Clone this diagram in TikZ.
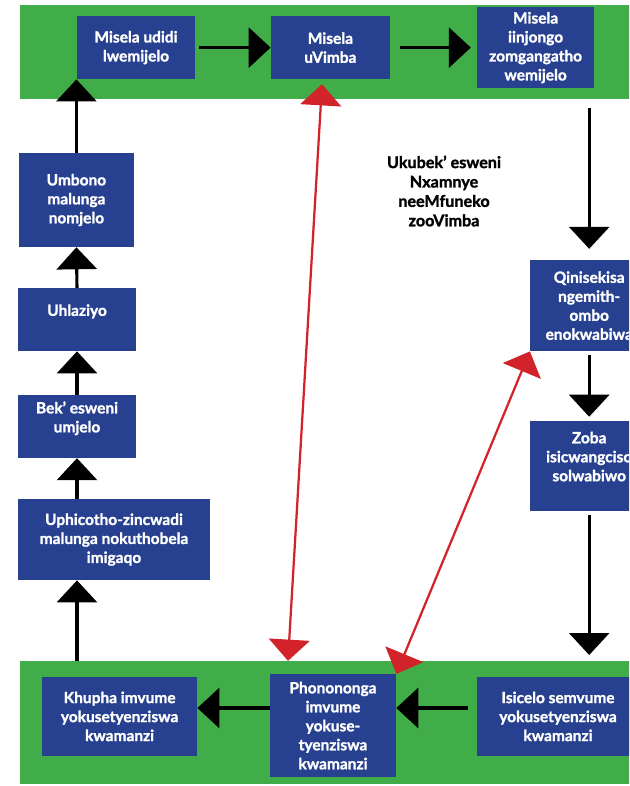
\documentclass[tikz,border=0pt]{standalone}
\usepackage{fontspec}
\setmainfont{Lato}[BoldFeatures={FakeBold=1.4}]
\usepackage{xcolor}
\usetikzlibrary{arrows.meta,positioning}
\definecolor{boxblue}{RGB}{39,64,143}
\definecolor{bandgreen}{RGB}{64,173,73}
\definecolor{linkred}{RGB}{210,35,42}

\begin{document}
\begin{tikzpicture}[
    procbox/.style={rectangle, fill=boxblue, text=white, align=center, inner sep=2pt, font=\fontsize{11}{13.5}\selectfont\bfseries},
    band/.style={rectangle, fill=bandgreen, inner sep=0pt, anchor=north west},
    flow/.style={-{Triangle[length=0.55cm,width=1cm]}, line width=2.2pt, black},
    link/.style={{Triangle[length=0.53cm,width=1.02cm]}-{Triangle[length=0.53cm,width=1.02cm]}, line width=1.6pt, linkred}
]
    \useasboundingbox (0,0) rectangle (15.725,-19.65);
    \clip (0,0) rectangle (15.725,-19.65);

    % Green bands
    \node[band, minimum width=15.5cm, minimum height=2.35cm] (topband) at (0.5,-0.125) {};
    \node[band, minimum width=15.5cm, minimum height=3.075cm] (lowband) at (0.5,-16.525) {};

    % Top row
    \node[procbox, minimum width=2.95cm, minimum height=1.575cm] (udidi) at (3.40,-1.19) {Misela udidi\\lwemijelo};
    \node[procbox, minimum width=2.975cm, minimum height=1.575cm] (uvimba) at (8.26,-1.19) {Misela\\uVimba};
    \node[procbox, minimum width=2.925cm, minimum height=2.025cm] (iinjongo) at (13.39,-1.19) {Misela\\iinjongo\\zomgangatho\\wemijelo};

    % Left column
    \node[procbox, minimum width=2.875cm, minimum height=2.35cm] (umbono) at (1.91,-5.0) {Umbono\\malunga\\nomjelo};
    \node[procbox, minimum width=2.95cm, minimum height=1.575cm] (uhlaziyo) at (1.925,-7.99) {Uhlaziyo\\~};
    \node[procbox, minimum width=2.95cm, minimum height=1.575cm] (bekesweni) at (1.925,-10.66) {Bek’ esweni\\umjelo\\~};
    \node[procbox, minimum width=4.8cm, minimum height=2.025cm] (uphicotho) at (2.85,-13.49) {Uphicotho-zincwadi\\malunga nokuthobela\\imigaqo};

    % Right column
    \node[procbox, minimum width=2.95cm, minimum height=2.275cm] (qinisekisa) at (14.73,-7.64) {Qinisekisa\\ngemith-\\ombo\\enokwabiwa};
    \node[procbox, minimum width=2.95cm, minimum height=2.25cm] (zoba) at (14.73,-11.65) {Zoba\\isicwangciso\\solwabiwo\\~};

    % Middle label
    \node[align=center, font=\fontsize{11.5}{13.8}\selectfont\bfseries] (ukubeka) at (11.1,-4.775) {Ukubek’ esweni\\Nxamnye\\neeMfuneko\\zooVimba};

    % Bottom row
    \node[procbox, minimum width=3.875cm, minimum height=1.975cm] (khupha) at (2.99,-17.91) {Khupha imvume\\yokusetyenziswa\\kwamanzi};
    \node[procbox, minimum width=3.15cm, minimum height=2.575cm] (phononga) at (8.325,-18.14) {Phonononga\\imvume\\yokuse-\\tyenziswa\\kwamanzi};
    \node[procbox, minimum width=4.05cm, minimum height=1.975cm] (isicelo) at (13.95,-17.91) {Isicelo semvume\\yokusetyenziswa\\kwamanzi};

    % Arrows along the top
    \draw[flow, shorten <=0.1cm] (udidi.east) -- (uvimba.west);
    \draw[flow, shorten <=0.25cm, shorten >=0.15cm] (uvimba.east) -- (iinjongo.west);

    % Arrows down the right
    \draw[flow, shorten <=0.2cm, shorten >=0.275cm] (qinisekisa.north |- topband.south) -- (qinisekisa.north);
    \draw[flow, shorten <=0.1cm, shorten >=0.1cm] (qinisekisa.south) -- (zoba.north);
    \draw[flow, shorten <=0.1cm, shorten >=0.15cm] (zoba.south) -- (zoba.south |- lowband.north);

    % Arrows along the bottom
    \draw[flow, shorten <=0.22cm] ([yshift=0.21cm]isicelo.west) -- ([yshift=0.21cm]isicelo.west -| phononga.east);
    \draw[flow] ([yshift=0.21cm]khupha.east -| phononga.west) -- ([yshift=0.21cm]khupha.east);

    % Arrows up the left
    \draw[flow] (lowband.north -| bekesweni.south) -- (uphicotho.south -| bekesweni.south);
    \draw[flow] (uphicotho.north -| bekesweni.south) -- (bekesweni.south);
    \draw[flow] (bekesweni.north) -- (uhlaziyo.south);
    \draw[flow] (uhlaziyo.north) -- (umbono.south);
    \draw[flow] (umbono.north) -- (umbono.north |- udidi.south);

    % Red two-way links
    \draw[link] ([xshift=-1.125cm,yshift=0.325cm]phononga.north) -- ([xshift=-0.21cm,yshift=-0.12cm]uvimba.south);
    \draw[link] (phononga.north east) -- (qinisekisa.south west);
\end{tikzpicture}
\end{document}
